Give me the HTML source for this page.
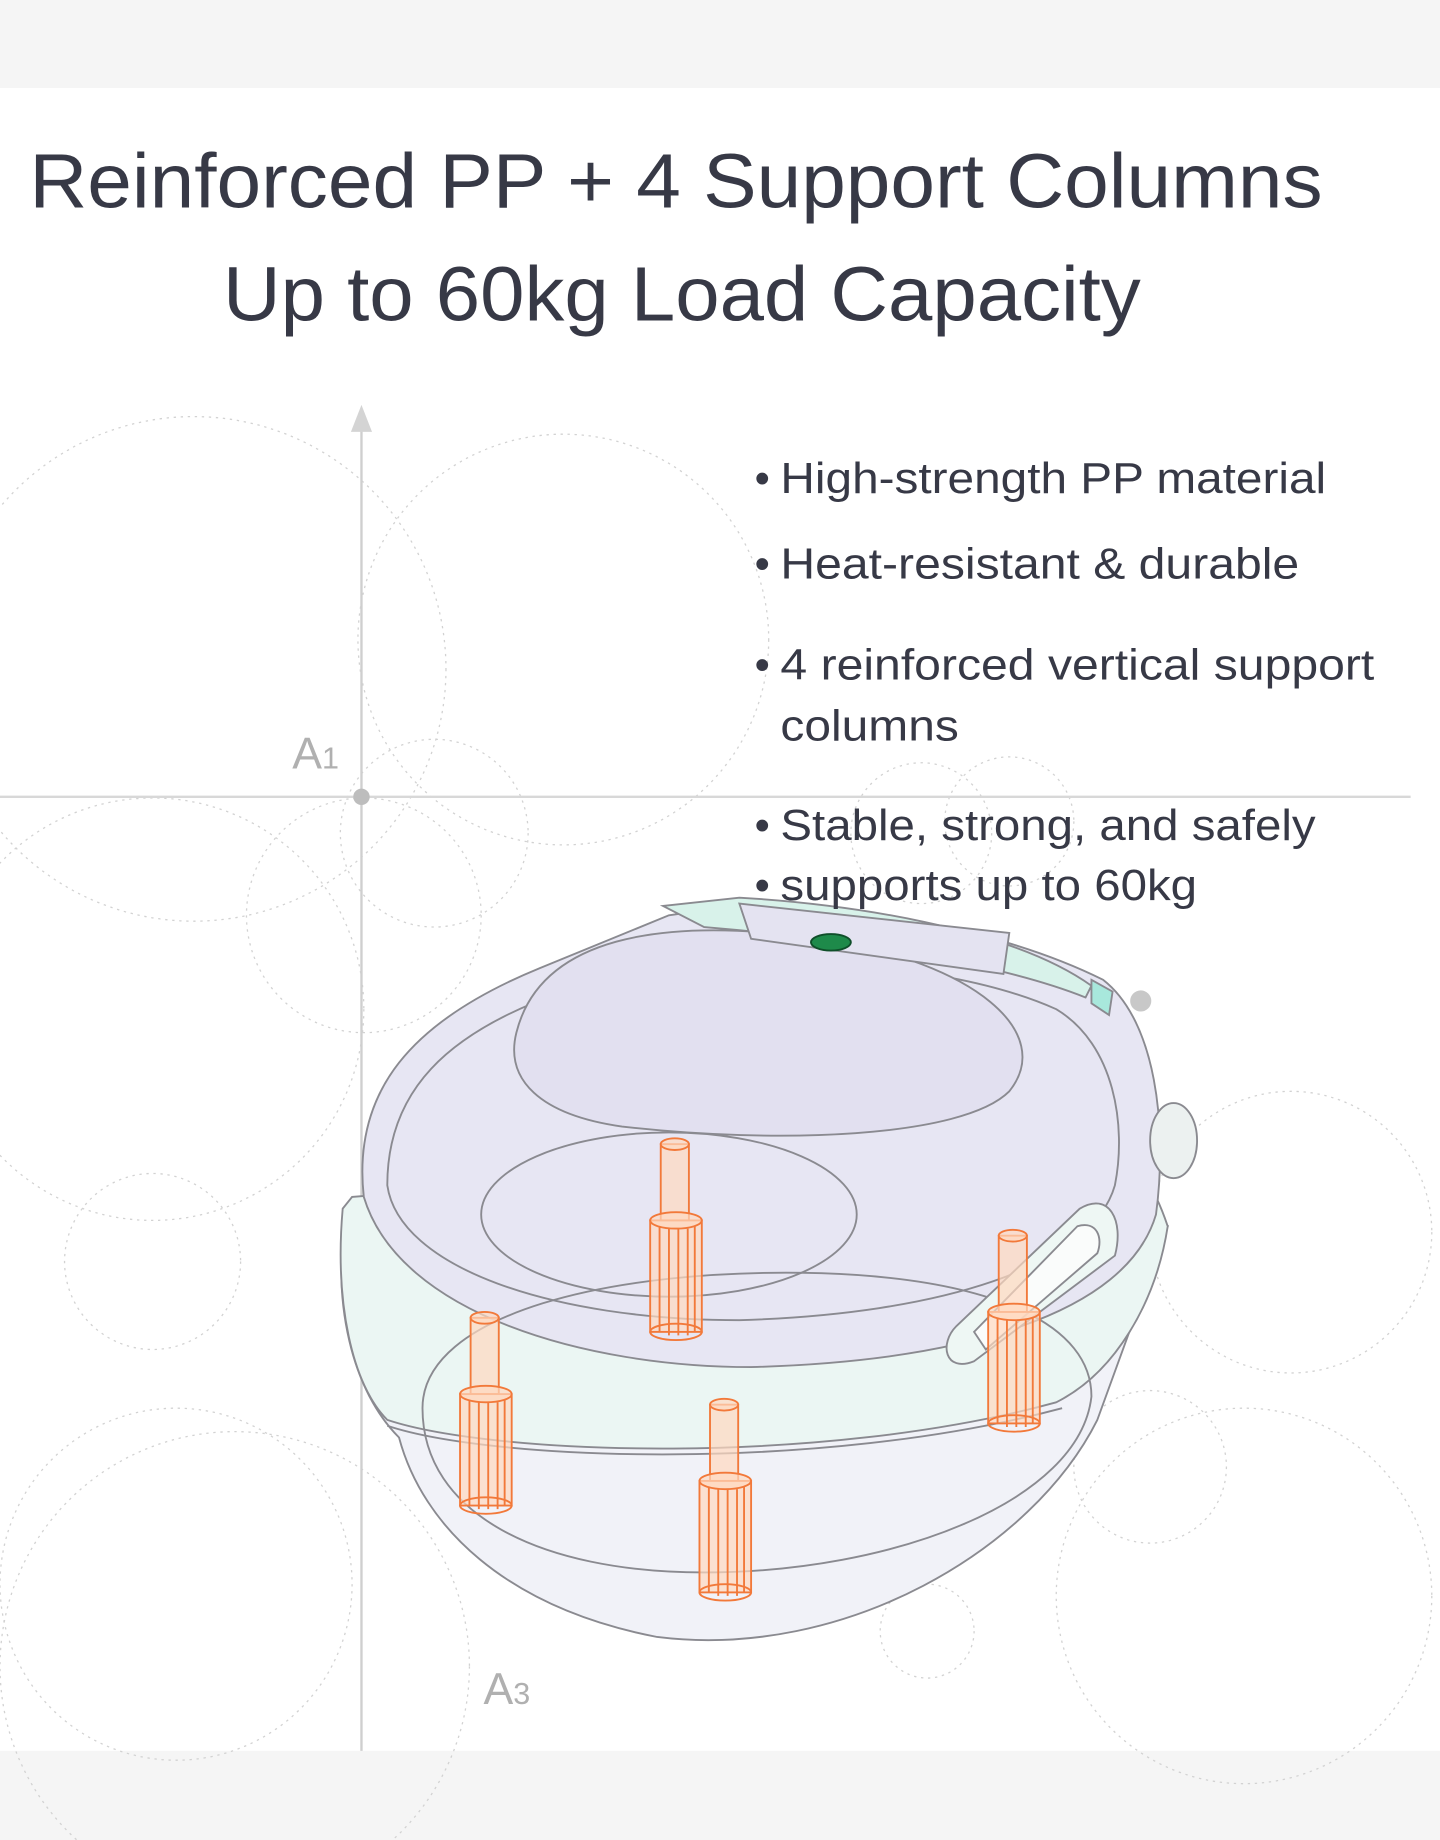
<!DOCTYPE html>
<html><head><meta charset="utf-8"><style>
html,body{margin:0;padding:0;background:#fff;}
svg{display:block;}
</style></head><body>
<svg width="1440" height="1840" viewBox="0 0 1227 1568" preserveAspectRatio="none" xmlns="http://www.w3.org/2000/svg">
<rect x="0" y="0" width="1227" height="1568" fill="#ffffff"/>
<rect x="0" y="0" width="1227" height="75" fill="#f5f5f5"/>
<rect x="0" y="1492" width="1227" height="76" fill="#f5f5f5"/>
<g font-family="Liberation Sans, sans-serif" fill="#373946">
<text x="25" y="177" font-size="66" textLength="1102" lengthAdjust="spacingAndGlyphs">Reinforced PP + 4 Support Columns</text>
<text x="190" y="273" font-size="66" textLength="782" lengthAdjust="spacingAndGlyphs">Up to 60kg Load Capacity</text>
</g>
<g fill="none" stroke="#d2d2d2" stroke-width="1.1" stroke-dasharray="2 4">
<circle cx="165" cy="570" r="215"/>
<circle cx="480" cy="545" r="175"/>
<circle cx="310" cy="780" r="100"/>
<circle cx="130" cy="860" r="180"/>
<circle cx="370" cy="710" r="80"/>
<circle cx="785" cy="710" r="60"/>
<circle cx="860" cy="700" r="55"/>
<circle cx="130" cy="1075" r="75"/>
<circle cx="150" cy="1350" r="150"/>
<circle cx="200" cy="1420" r="200"/>
<circle cx="1100" cy="1050" r="120"/>
<circle cx="980" cy="1250" r="65"/>
<circle cx="790" cy="1390" r="40"/>
<circle cx="1060" cy="1360" r="160"/>
</g>
<line x1="308" y1="360" x2="308" y2="1492" stroke="#cfcfcf" stroke-width="2"/>
<polygon points="308,345 299,368 317,368" fill="#d4d4d4"/>
<line x1="0" y1="679" x2="1202" y2="679" stroke="#d8d8d8" stroke-width="2"/>
<circle cx="308" cy="679" r="7" fill="#bdbdbd"/>
<circle cx="972" cy="853" r="9" fill="#c8c8c8"/>
<g font-family="Liberation Sans, sans-serif" fill="#b0b0b0">
<text x="249" y="655" font-size="38">A<tspan font-size="26">1</tspan></text>
<text x="412" y="1452" font-size="38">A<tspan font-size="26">3</tspan></text>
</g>
<g stroke="#8a8a90" stroke-width="1.6">
<path d="M295,1030 C282,1110 300,1185 340,1225 C360,1300 430,1370 560,1395 C720,1415 880,1320 935,1210 L995,1045 Z" fill="#f1f2f8"/>
<path d="M292,1030 C285,1110 300,1180 330,1210 C420,1240 700,1250 900,1195 C950,1170 985,1110 995,1045 C980,1000 960,980 940,970 L300,1020 Z" fill="#ebf6f3"/>
<path d="M330,1215 C420,1245 700,1255 905,1200" fill="none"/>
<path d="M310,1020 C300,930 350,870 460,825 L570,780 C700,760 850,790 940,835 C985,870 995,960 985,1035 C960,1120 820,1160 640,1165 C500,1165 340,1120 310,1020 Z" fill="#e7e6f3"/>
<path d="M330,1010 C330,930 380,880 480,845 C600,805 800,815 900,860 C950,890 960,960 950,1010 C930,1080 800,1120 630,1125 C470,1125 340,1080 330,1010 Z" fill="none"/>
<path d="M440,880 C460,800 560,780 700,800 C830,820 900,880 860,930 C820,970 660,975 530,960 C460,950 430,920 440,880 Z" fill="#e2e0f0"/>
<ellipse cx="570" cy="1035" rx="160" ry="70" fill="none"/>
<path d="M360,1200 C360,1120 520,1080 700,1085 C850,1090 930,1130 930,1190 C920,1280 760,1340 600,1340 C460,1340 360,1290 360,1200 Z" fill="none"/>
<path d="M565,772 L630,765 C720,770 860,790 930,840 L925,850 C850,820 720,800 600,790 Z" fill="#d8f2ea"/>
<path d="M630,770 L860,795 L855,830 L640,800 Z" fill="#e4e3f1"/>
<ellipse cx="708" cy="803" rx="17" ry="7" fill="#1e8a4a" stroke="#0f4f2a"/>
<path d="M930,835 L948,845 L945,865 L930,855 Z" fill="#a8e8dc"/>
<ellipse cx="1000" cy="972" rx="20" ry="32" fill="#ecf1f0"/>
<path d="M815,1130 L920,1030 C945,1015 958,1040 950,1070 L830,1160 C805,1170 800,1145 815,1130 Z" fill="#eef7f4"/>
<path d="M830,1135 L918,1045 C935,1040 940,1055 935,1068 L840,1150 Z" fill="#fafcfb"/>
</g>
<g stroke="#f2793a" stroke-width="1.6" fill="#ffd8bf" fill-opacity="0.7">
<g id="c1"><rect x="563" y="975" width="24" height="65"/><ellipse cx="575" cy="975" rx="12" ry="5"/><rect x="554" y="1040" width="44" height="95"/><ellipse cx="576" cy="1040" rx="22" ry="7"/><ellipse cx="576" cy="1135" rx="22" ry="7" fill="none"/><path d="M562,1045V1135M570,1047V1138M578,1047V1138M586,1047V1138M592,1045V1135" fill="none"/></g>
<use href="#c1" transform="translate(-162,148)"/>
<use href="#c1" transform="translate(42,222)"/>
<use href="#c1" transform="translate(288,78)"/>
</g>
<g font-family="Liberation Sans, sans-serif" fill="#373946" font-size="37">
<text x="643" y="420">•</text><text x="665" y="420" textLength="465" lengthAdjust="spacingAndGlyphs">High-strength PP material</text>
<text x="643" y="493">•</text><text x="665" y="493" textLength="442" lengthAdjust="spacingAndGlyphs">Heat-resistant &amp; durable</text>
<text x="643" y="579">•</text><text x="665" y="579" textLength="506" lengthAdjust="spacingAndGlyphs">4 reinforced vertical support</text>
<text x="665" y="631" textLength="152" lengthAdjust="spacingAndGlyphs">columns</text>
<text x="643" y="716">•</text><text x="665" y="716" textLength="456" lengthAdjust="spacingAndGlyphs">Stable, strong, and safely</text>
<text x="643" y="767">•</text><text x="665" y="767" textLength="355" lengthAdjust="spacingAndGlyphs">supports up to 60kg</text>
</g>
</svg>
</body></html>
